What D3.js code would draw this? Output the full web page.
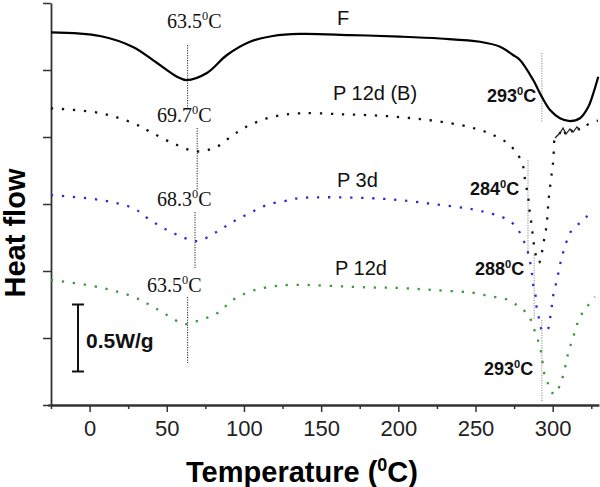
<!DOCTYPE html>
<html>
<head>
<meta charset="utf-8">
<script src="https://cdn.jsdelivr.net/npm/d3@7"></script>
<style>
  html, body { margin: 0; padding: 0; background: #fff; }
  svg { display: block; }
</style>
</head>
<body>
<svg id="chart" width="600" height="487"></svg>
<script>
// ---------- DATA ----------
const xTicksMajor = [0, 50, 100, 150, 200, 250, 300];
const xTicksMinor = [-25, 25, 75, 125, 175, 225, 275, 325];
const yTicks = [0, 0.5, 1, 1.5, 2, 2.5, 3];

const seriesNames = ["F", "P 12d (B)", "P 3d", "P 12d"];

const fTemp = [-25, 6.7, 28.1, 43.7, 56.6, 62.9, 76.0, 89.0, 103.9, 118.8, 136.3, 168.7, 201.1, 227, 252.9, 265.9, 274.3, 278.8, 287.4, 292.9, 298.3, 304.7, 311.2, 317.7, 323.1, 326.3, 329.5];
const fFlow = [2.781, 2.754, 2.672, 2.552, 2.450, 2.425, 2.478, 2.612, 2.711, 2.754, 2.769, 2.761, 2.749, 2.735, 2.711, 2.674, 2.612, 2.575, 2.425, 2.301, 2.201, 2.140, 2.119, 2.140, 2.226, 2.326, 2.450];

const p12bTemp = [-25, 6.7, 28.1, 39.1, 54.0, 69.6, 82.5, 92.9, 103.9, 118.8, 136.3, 162.2, 188.1, 214.0, 239.9, 252.9, 261.3, 270.4, 276.9, 280.9, 282.1, 283.4, 284.6, 285.3, 286.6, 287.2, 288.5, 289.8, 291.1, 292.9, 294.4, 295.7, 296.5, 297.0, 297.8, 299.4, 300.4, 300.8, 301.5, 304.7, 306.7, 308.6, 311.2, 313.2, 315.7, 317.7, 324.2, 329.3];
const p12bFlow = [2.214, 2.179, 2.104, 2.040, 1.953, 1.892, 1.928, 2.015, 2.090, 2.151, 2.177, 2.170, 2.159, 2.134, 2.090, 2.052, 2.015, 1.957, 1.878, 1.778, 1.679, 1.599, 1.508, 1.418, 1.330, 1.246, 1.157, 1.082, 1.060, 1.134, 1.231, 1.313, 1.395, 1.480, 1.580, 1.731, 1.828, 1.918, 1.993, 2.030, 2.067, 2.022, 2.060, 2.037, 2.075, 2.052, 2.104, 2.122];

const p3Temp = [-25, 6.7, 28.1, 39.1, 50.1, 58.6, 67.0, 71.5, 82.5, 92.9, 103.9, 114.9, 129.8, 136.3, 188.1, 222.5, 250.8, 257.3, 263.7, 269.1, 274.5, 278.4, 281.0, 283.5, 285.3, 286.4, 287.4, 289.0, 289.6, 291.1, 292.9, 294.4, 297.1, 298.3, 299.4, 300.4, 302.2, 303.7, 305.2, 306.9, 309.5, 311.7, 317.7, 322.0, 327.4];
const p3Flow = [1.567, 1.530, 1.470, 1.381, 1.306, 1.261, 1.226, 1.226, 1.293, 1.368, 1.433, 1.493, 1.530, 1.545, 1.540, 1.500, 1.455, 1.435, 1.418, 1.393, 1.351, 1.293, 1.231, 1.157, 1.070, 0.995, 0.893, 0.808, 0.729, 0.647, 0.560, 0.547, 0.572, 0.647, 0.733, 0.821, 0.908, 0.987, 1.070, 1.144, 1.236, 1.293, 1.360, 1.405, 1.450];

const p12Temp = [-25, 6.7, 28.1, 39.1, 50.1, 61.8, 71.5, 82.5, 92.9, 103.9, 114.9, 129.8, 179.7, 201.1, 222.5, 250.8, 258.3, 264.8, 271.2, 276.7, 281.0, 284.8, 287.4, 289.6, 291.8, 292.9, 293.9, 295.0, 296.5, 298.7, 300.5, 302.6, 304.7, 306.9, 308.6, 310.1, 312.3, 314.4, 316.6, 319.8, 323.1, 327.4];
const p12Flow = [0.933, 0.878, 0.808, 0.746, 0.672, 0.604, 0.634, 0.684, 0.784, 0.846, 0.878, 0.896, 0.878, 0.873, 0.858, 0.834, 0.813, 0.803, 0.784, 0.746, 0.709, 0.659, 0.584, 0.510, 0.435, 0.360, 0.286, 0.211, 0.174, 0.099, 0.087, 0.087, 0.157, 0.224, 0.311, 0.390, 0.472, 0.547, 0.629, 0.697, 0.746, 0.808];

// peak annotations: temperature values (°C)
const lowPeaks = ["63.5", "69.7", "68.3", "63.5"];
const lowPeakTemps = [63.5, 69.7, 68.3, 63.5];
const highPeaks = ["293", "284", "288", "293"];
const highPeakTemps = [293, 284, 288, 293];
const scaleBarValue = 0.5; // W/g

// ---------- DRAW ----------
const svg = d3.select("#chart");
const x = d3.scaleLinear().domain([-25, 330]).range([51, 599]);
const y = d3.scaleLinear().domain([0, 3]).range([405, 3]);

const SANS = "'Liberation Sans', Arial, sans-serif";
const SERIF = "'Liberation Serif', 'Times New Roman', serif";
const axisColor = "#333";

// x axis minor ticks
const xMinor = svg.append("g").attr("transform", `translate(0,${y(0)})`)
  .call(d3.axisBottom(x).tickValues(xTicksMinor).tickSize(4).tickFormat(""));
// x axis major
const xMajor = svg.append("g").attr("transform", `translate(0,${y(0)})`)
  .call(d3.axisBottom(x).tickValues(xTicksMajor).tickSize(7).tickPadding(8).tickSizeOuter(0));
xMajor.selectAll("text").attr("font-family", SANS).attr("font-size", 22).attr("fill", "#222");
[xMinor, xMajor].forEach(g => {
  g.selectAll("line").attr("stroke", axisColor).attr("stroke-width", 1.5);
  g.select(".domain").attr("stroke", axisColor).attr("stroke-width", 1.8);
});
xMinor.select(".domain").attr("d", `M48,0.5H599`);

// y axis
const yAx = svg.append("g").attr("transform", `translate(${x(-25)},0)`)
  .call(d3.axisLeft(y).tickValues(yTicks).tickSize(8).tickFormat("").tickSizeOuter(0));
yAx.selectAll("line").attr("stroke", axisColor).attr("stroke-width", 1.5);
yAx.select(".domain").attr("stroke", axisColor).attr("stroke-width", 1.8);

// vertical annotation lines
const vlines = [
  {t: lowPeakTemps[0], y0: 45, y1: 110, c: "#222"},
  {t: lowPeakTemps[1], y0: 128, y1: 190, c: "#222"},
  {t: lowPeakTemps[2], y0: 212, y1: 268, c: "#222"},
  {t: lowPeakTemps[3], y0: 297, y1: 363, c: "#222"},
  {t: highPeakTemps[0], y0: 53, y1: 122, c: "#888"},
  {t: highPeakTemps[1], y0: 160, y1: 255, c: "#888"},
  {t: highPeakTemps[2], y0: 255, y1: 320, c: "#888"},
  {t: highPeakTemps[3], y0: 320, y1: 402, c: "#888"}
];
svg.append("g").selectAll("line").data(vlines).join("line")
  .attr("x1", d => x(d.t)).attr("x2", d => x(d.t))
  .attr("y1", d => d.y0).attr("y2", d => d.y1)
  .attr("stroke", d => d.c).attr("stroke-width", 1)
  .attr("stroke-dasharray", "1.2,1.3");

// curves
const line = d3.line().x(d => x(d[0])).y(d => y(d[1])).curve(d3.curveCatmullRom.alpha(0.5));
const zip = (a, b) => a.map((v, i) => [v, b[i]]);
const series = [
  {pts: zip(fTemp, fFlow), color: "#000", dash: null, w: 2.2},
  {pts: zip(p12bTemp, p12bFlow), color: "#111", dash: "2.3,8.7", w: 2.3},
  {pts: zip(p3Temp, p3Flow), color: "#2b2bd6", dash: "2.3,8.7", w: 2.3},
  {pts: zip(p12Temp, p12Flow), color: "#3c9a3c", dash: "2.3,8.7", w: 2.3}
];
svg.append("g").selectAll("path").data(series).join("path")
  .attr("d", d => line(d.pts))
  .attr("fill", "none")
  .attr("stroke", d => d.color)
  .attr("stroke-width", d => d.w)
  .attr("stroke-dasharray", d => d.dash);

// noisy scribble segment of P 12d (B) after its sharp peak (drawn solid, thin)
const noisy = zip(p12bTemp, p12bFlow).filter(d => d[0] >= 301.5 && d[0] <= 317.7);
svg.append("path").attr("d", d3.line().x(d => x(d[0])).y(d => y(d[1]))(noisy))
  .attr("fill", "none").attr("stroke", "#222").attr("stroke-width", 1.3);

// label helper with superscript 0
function degLabel(px, py, num, family, size, weight, anchor) {
  const t = svg.append("text")
    .attr("x", px).attr("y", py)
    .attr("font-family", family).attr("font-size", size)
    .attr("font-weight", weight).attr("fill", "#111")
    .attr("text-anchor", anchor || "start");
  t.append("tspan").text(num);
  t.append("tspan").attr("font-size", size * 0.62).attr("dy", -size * 0.38).text("0");
  t.append("tspan").attr("dy", size * 0.38).text("C");
  return t;
}

// low-temperature peak labels (serif)
const lowPos = [[167, 28], [157, 122], [157, 206], [147, 292]];
lowPeaks.forEach((s, i) => degLabel(lowPos[i][0], lowPos[i][1], s, SERIF, 20, "normal"));

// high-temperature peak labels (bold sans)
const highPos = [[487, 102], [470, 195], [475, 275], [484, 375]];
highPeaks.forEach((s, i) => degLabel(highPos[i][0], highPos[i][1], s, SANS, 18, "bold"));

// series names
const namePos = [[337, 25], [333, 100], [337, 187], [335, 275]];
seriesNames.forEach((s, i) => {
  svg.append("text").attr("x", namePos[i][0]).attr("y", namePos[i][1])
    .attr("font-family", SANS).attr("font-size", 20).attr("fill", "#111").text(s);
});

// scale bar (0.5 W/g tall)
const sbX = 78, sbTop = y(0.75), sbBot = sbTop + (y(0) - y(scaleBarValue));
const sb = svg.append("g").attr("stroke", "#111").attr("stroke-width", 2);
sb.append("line").attr("x1", sbX).attr("x2", sbX).attr("y1", sbTop).attr("y2", sbBot);
sb.append("line").attr("x1", sbX - 6).attr("x2", sbX + 6).attr("y1", sbTop).attr("y2", sbTop);
sb.append("line").attr("x1", sbX - 6).attr("x2", sbX + 6).attr("y1", sbBot).attr("y2", sbBot);
svg.append("text").attr("x", 86).attr("y", 348)
  .attr("font-family", SANS).attr("font-size", 21).attr("font-weight", "bold")
  .attr("fill", "#111").text(scaleBarValue + "W/g");

// axis titles
const xt = svg.append("text").attr("x", 302).attr("y", 482)
  .attr("font-family", SANS).attr("font-size", 29).attr("font-weight", "bold")
  .attr("text-anchor", "middle").attr("fill", "#000");
xt.append("tspan").text("Temperature (");
xt.append("tspan").attr("font-size", 18).attr("dy", -11).text("0");
xt.append("tspan").attr("dy", 11).text("C)");

svg.append("text").attr("transform", "translate(25,233) rotate(-90)")
  .attr("font-family", SANS).attr("font-size", 29).attr("font-weight", "bold")
  .attr("text-anchor", "middle").attr("fill", "#000").text("Heat flow");
</script>
</body>
</html>
